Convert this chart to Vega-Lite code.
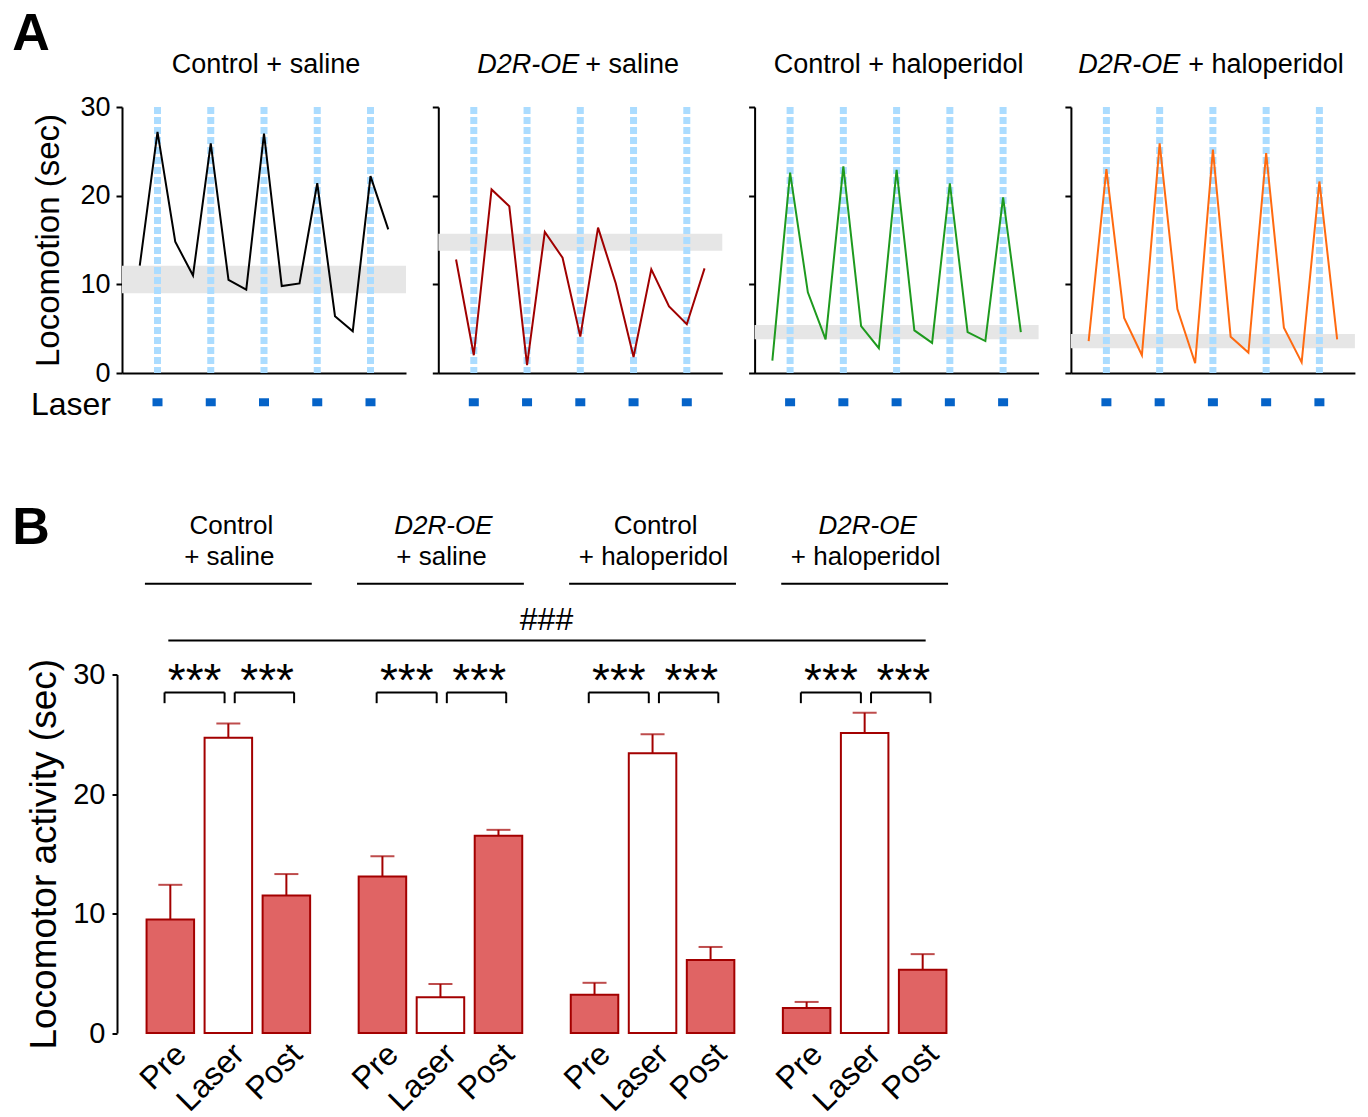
{
"$schema": "https://vega.github.io/schema/vega-lite/v6.json",
"background": "white",
"padding": {"left": 12, "top": 8, "right": 5, "bottom": 5},
"autosize": {"type": "pad"},
"config": {
  "view": {"stroke": null},
  "font": "Liberation Sans",
  "text": {"font": "Liberation Sans", "color": "#000000"},
  "axis": {"domainColor": "#000000", "tickColor": "#000000", "labelColor": "#000000", "titleColor": "#000000", "domainWidth": 2, "tickWidth": 2, "grid": false, "labelFont": "Liberation Sans", "titleFont": "Liberation Sans", "titleFontWeight": "normal"}
},
"datasets": {
  "loco": [
    {"panel":1,"t":0,"value":12.1},{"panel":1,"t":1,"value":27.2},{"panel":1,"t":2,"value":14.8},{"panel":1,"t":3,"value":11.0},{"panel":1,"t":4,"value":25.9},{"panel":1,"t":5,"value":10.5},{"panel":1,"t":6,"value":9.4},{"panel":1,"t":7,"value":27.0},{"panel":1,"t":8,"value":9.8},{"panel":1,"t":9,"value":10.1},{"panel":1,"t":10,"value":21.4},{"panel":1,"t":11,"value":6.4},{"panel":1,"t":12,"value":4.7},{"panel":1,"t":13,"value":22.2},{"panel":1,"t":14,"value":16.2},
    {"panel":2,"t":0,"value":12.8},{"panel":2,"t":1,"value":2.0},{"panel":2,"t":2,"value":20.7},{"panel":2,"t":3,"value":18.8},{"panel":2,"t":4,"value":0.9},{"panel":2,"t":5,"value":15.9},{"panel":2,"t":6,"value":13.0},{"panel":2,"t":7,"value":4.1},{"panel":2,"t":8,"value":16.4},{"panel":2,"t":9,"value":10.1},{"panel":2,"t":10,"value":1.8},{"panel":2,"t":11,"value":11.7},{"panel":2,"t":12,"value":7.5},{"panel":2,"t":13,"value":5.5},{"panel":2,"t":14,"value":11.8},
    {"panel":3,"t":0,"value":1.4},{"panel":3,"t":1,"value":22.6},{"panel":3,"t":2,"value":9.1},{"panel":3,"t":3,"value":3.8},{"panel":3,"t":4,"value":23.3},{"panel":3,"t":5,"value":5.3},{"panel":3,"t":6,"value":2.8},{"panel":3,"t":7,"value":22.9},{"panel":3,"t":8,"value":4.8},{"panel":3,"t":9,"value":3.4},{"panel":3,"t":10,"value":21.4},{"panel":3,"t":11,"value":4.6},{"panel":3,"t":12,"value":3.6},{"panel":3,"t":13,"value":19.8},{"panel":3,"t":14,"value":4.6},
    {"panel":4,"t":0,"value":3.6},{"panel":4,"t":1,"value":23.0},{"panel":4,"t":2,"value":6.2},{"panel":4,"t":3,"value":2.0},{"panel":4,"t":4,"value":25.9},{"panel":4,"t":5,"value":7.2},{"panel":4,"t":6,"value":1.1},{"panel":4,"t":7,"value":25.2},{"panel":4,"t":8,"value":4.1},{"panel":4,"t":9,"value":2.3},{"panel":4,"t":10,"value":24.8},{"panel":4,"t":11,"value":5.1},{"panel":4,"t":12,"value":1.2},{"panel":4,"t":13,"value":21.6},{"panel":4,"t":14,"value":3.8}
  ],
  "bands": [
    {"panel":1,"lo":9.0,"hi":12.1},{"panel":2,"lo":13.8,"hi":15.7},{"panel":3,"lo":3.8,"hi":5.4},{"panel":4,"lo":2.8,"hi":4.4}
  ],
  "laser": [{"t":1},{"t":4},{"t":7},{"t":10},{"t":13}],
  "bars": [
    {"group":"Control + saline","phase":"Pre","mean":9.5,"upper":12.4},
    {"group":"Control + saline","phase":"Laser","mean":24.7,"upper":25.9},
    {"group":"Control + saline","phase":"Post","mean":11.5,"upper":13.3},
    {"group":"D2R-OE + saline","phase":"Pre","mean":13.1,"upper":14.8},
    {"group":"D2R-OE + saline","phase":"Laser","mean":3.0,"upper":4.1},
    {"group":"D2R-OE + saline","phase":"Post","mean":16.5,"upper":17.0},
    {"group":"Control + haloperidol","phase":"Pre","mean":3.2,"upper":4.2},
    {"group":"Control + haloperidol","phase":"Laser","mean":23.4,"upper":25.0},
    {"group":"Control + haloperidol","phase":"Post","mean":6.1,"upper":7.2},
    {"group":"D2R-OE + haloperidol","phase":"Pre","mean":2.1,"upper":2.6},
    {"group":"D2R-OE + haloperidol","phase":"Laser","mean":25.1,"upper":26.8},
    {"group":"D2R-OE + haloperidol","phase":"Post","mean":5.3,"upper":6.6}
  ],
  "groups": [
    {"group":"Control + saline","line1":"Control","line2":"+ saline"},
    {"group":"D2R-OE + saline","line1":"D2R-OE","line2":"+ saline"},
    {"group":"Control + haloperidol","line1":"Control","line2":"+ haloperidol"},
    {"group":"D2R-OE + haloperidol","line1":"D2R-OE","line2":"+ haloperidol"}
  ],
  "comparison": [{"from":"Control + saline","to":"D2R-OE + haloperidol","label":"###"}],
  "note": [{"label":"note"}]
},
"bounds": "flush",
"spacing": 567.5,
"vconcat": [
  {
    "bounds": "flush",
    "spacing": 32.3,
    "hconcat": [
      {
        "width": 284, "height": 266,
        "layer": [
          {"data": {"name": "bands"}, "transform": [{"filter": "datum.panel == 1"}], "mark": {"type": "rect", "color": "#e6e6e6"},
           "encoding": {"y": {"field": "lo", "type": "quantitative", "scale": {"domain": [0, 30], "nice": false}, "axis": {"values": [0, 10, 20, 30], "title": "Locomotion (sec)", "labelFontSize": 27, "titleFontSize": 33, "tickSize": 6, "labelPadding": 6, "titlePadding": 14}}, "y2": {"field": "hi"}}},
          {"data": {"name": "laser"}, "mark": {"type": "rule", "color": "#abdcff", "strokeWidth": 7, "strokeDash": [7, 3]},
           "encoding": {"x": {"field": "t", "type": "quantitative", "scale": {"domain": [-1, 15], "nice": false, "zero": false}, "axis": {"ticks": false, "labels": false, "title": null}}}},
          {"data": {"name": "loco"}, "transform": [{"filter": "datum.panel == 1"}], "mark": {"type": "line", "color": "#000000", "strokeWidth": 2},
           "encoding": {"x": {"field": "t", "type": "quantitative"}, "y": {"field": "value", "type": "quantitative"}}},
          {"data": {"name": "laser"}, "mark": {"type": "point", "shape": "M-1,-0.8H1V0.8H-1Z", "filled": true, "color": "#0563c8", "size": 100, "opacity": 1},
           "encoding": {"x": {"field": "t", "type": "quantitative"}, "y": {"datum": -3.3, "type": "quantitative"}}},
          {"data": {"name": "note"}, "mark": {"type": "text", "text": "Control + saline", "fontSize": 27, "align": "center", "baseline": "alphabetic", "dx": 2},
           "encoding": {"x": {"datum": 7, "type": "quantitative"}, "y": {"datum": 33.8, "type": "quantitative"}}},
          {"data": {"name": "note"}, "mark": {"type": "text", "text": "Laser", "fontSize": 32, "align": "right", "baseline": "middle", "dx": -11},
           "encoding": {"x": {"datum": -1, "type": "quantitative"}, "y": {"datum": -3.6, "type": "quantitative"}}},
          {"data": {"name": "note"}, "mark": {"type": "text", "text": "A", "fontSize": 52, "fontWeight": "bold", "align": "left", "baseline": "alphabetic", "dx": -109.7},
           "encoding": {"x": {"datum": -1, "type": "quantitative"}, "y": {"datum": 36.4, "type": "quantitative"}}}
        ]
      },
      {
        "width": 284, "height": 266,
        "layer": [
          {"data": {"name": "bands"}, "transform": [{"filter": "datum.panel == 2"}], "mark": {"type": "rect", "color": "#e6e6e6"},
           "encoding": {"y": {"field": "lo", "type": "quantitative", "scale": {"domain": [0, 30], "nice": false}, "axis": {"values": [0, 10, 20, 30], "labels": false, "title": null, "tickSize": 6}}, "y2": {"field": "hi"}}},
          {"data": {"name": "laser"}, "mark": {"type": "rule", "color": "#abdcff", "strokeWidth": 7, "strokeDash": [7, 3]},
           "encoding": {"x": {"field": "t", "type": "quantitative", "scale": {"domain": [-1, 15], "nice": false, "zero": false}, "axis": {"ticks": false, "labels": false, "title": null}}}},
          {"data": {"name": "loco"}, "transform": [{"filter": "datum.panel == 2"}], "mark": {"type": "line", "color": "#a00000", "strokeWidth": 2},
           "encoding": {"x": {"field": "t", "type": "quantitative"}, "y": {"field": "value", "type": "quantitative"}}},
          {"data": {"name": "laser"}, "mark": {"type": "point", "shape": "M-1,-0.8H1V0.8H-1Z", "filled": true, "color": "#0563c8", "size": 100, "opacity": 1},
           "encoding": {"x": {"field": "t", "type": "quantitative"}, "y": {"datum": -3.3, "type": "quantitative"}}},
          {"data": {"name": "note"}, "mark": {"type": "text", "text": "D2R-OE", "fontSize": 27, "fontStyle": "italic", "align": "right", "baseline": "alphabetic", "dx": -1},
           "encoding": {"x": {"datum": 7, "type": "quantitative"}, "y": {"datum": 33.8, "type": "quantitative"}}},
          {"data": {"name": "note"}, "mark": {"type": "text", "text": "+ saline", "fontSize": 27, "align": "left", "baseline": "alphabetic", "dx": 5},
           "encoding": {"x": {"datum": 7, "type": "quantitative"}, "y": {"datum": 33.8, "type": "quantitative"}}}
        ]
      },
      {
        "width": 284, "height": 266,
        "layer": [
          {"data": {"name": "bands"}, "transform": [{"filter": "datum.panel == 3"}], "mark": {"type": "rect", "color": "#e6e6e6"},
           "encoding": {"y": {"field": "lo", "type": "quantitative", "scale": {"domain": [0, 30], "nice": false}, "axis": {"values": [0, 10, 20, 30], "labels": false, "title": null, "tickSize": 6}}, "y2": {"field": "hi"}}},
          {"data": {"name": "laser"}, "mark": {"type": "rule", "color": "#abdcff", "strokeWidth": 7, "strokeDash": [7, 3]},
           "encoding": {"x": {"field": "t", "type": "quantitative", "scale": {"domain": [-1, 15], "nice": false, "zero": false}, "axis": {"ticks": false, "labels": false, "title": null}}}},
          {"data": {"name": "loco"}, "transform": [{"filter": "datum.panel == 3"}], "mark": {"type": "line", "color": "#1e9a1e", "strokeWidth": 2},
           "encoding": {"x": {"field": "t", "type": "quantitative"}, "y": {"field": "value", "type": "quantitative"}}},
          {"data": {"name": "laser"}, "mark": {"type": "point", "shape": "M-1,-0.8H1V0.8H-1Z", "filled": true, "color": "#0563c8", "size": 100, "opacity": 1},
           "encoding": {"x": {"field": "t", "type": "quantitative"}, "y": {"datum": -3.3, "type": "quantitative"}}},
          {"data": {"name": "note"}, "mark": {"type": "text", "text": "Control + haloperidol", "fontSize": 27, "align": "center", "baseline": "alphabetic", "dx": 2},
           "encoding": {"x": {"datum": 7, "type": "quantitative"}, "y": {"datum": 33.8, "type": "quantitative"}}}
        ]
      },
      {
        "width": 284, "height": 266,
        "layer": [
          {"data": {"name": "bands"}, "transform": [{"filter": "datum.panel == 4"}], "mark": {"type": "rect", "color": "#e6e6e6"},
           "encoding": {"y": {"field": "lo", "type": "quantitative", "scale": {"domain": [0, 30], "nice": false}, "axis": {"values": [0, 10, 20, 30], "labels": false, "title": null, "tickSize": 6}}, "y2": {"field": "hi"}}},
          {"data": {"name": "laser"}, "mark": {"type": "rule", "color": "#abdcff", "strokeWidth": 7, "strokeDash": [7, 3]},
           "encoding": {"x": {"field": "t", "type": "quantitative", "scale": {"domain": [-1, 15], "nice": false, "zero": false}, "axis": {"ticks": false, "labels": false, "title": null}}}},
          {"data": {"name": "loco"}, "transform": [{"filter": "datum.panel == 4"}], "mark": {"type": "line", "color": "#ff6a10", "strokeWidth": 2},
           "encoding": {"x": {"field": "t", "type": "quantitative"}, "y": {"field": "value", "type": "quantitative"}}},
          {"data": {"name": "laser"}, "mark": {"type": "point", "shape": "M-1,-0.8H1V0.8H-1Z", "filled": true, "color": "#0563c8", "size": 100, "opacity": 1},
           "encoding": {"x": {"field": "t", "type": "quantitative"}, "y": {"datum": -3.3, "type": "quantitative"}}},
          {"data": {"name": "note"}, "mark": {"type": "text", "text": "D2R-OE", "fontSize": 27, "fontStyle": "italic", "align": "right", "baseline": "alphabetic", "dx": -32.6},
           "encoding": {"x": {"datum": 7, "type": "quantitative"}, "y": {"datum": 33.8, "type": "quantitative"}}},
          {"data": {"name": "note"}, "mark": {"type": "text", "text": "+ haloperidol", "fontSize": 27, "align": "left", "baseline": "alphabetic", "dx": -24.6},
           "encoding": {"x": {"datum": 7, "type": "quantitative"}, "y": {"datum": 33.8, "type": "quantitative"}}}
        ]
      }
    ]
  },
  {
    "width": 849, "height": 358.5,
    "layer": [
      {"data": {"name": "bars"}, "mark": {"type": "bar", "stroke": "#a30000", "strokeWidth": 2},
       "encoding": {
         "x": {"field": "group", "type": "nominal", "sort": null, "scale": {"domain": ["Control + saline", "D2R-OE + saline", "Control + haloperidol", "D2R-OE + haloperidol"], "paddingInner": 0.2288, "paddingOuter": 0.1158}, "axis": null},
         "xOffset": {"field": "phase", "type": "nominal", "sort": null, "scale": {"domain": ["Pre", "Laser", "Post"], "paddingInner": 0.181, "paddingOuter": 0}},
         "y": {"field": "mean", "type": "quantitative", "scale": {"domain": [0, 30], "nice": false}, "axis": {"values": [0, 10, 20, 30], "title": "Locomotor activity (sec)", "labelFontSize": 29, "titleFontSize": 37, "tickSize": 5, "offset": 5, "labelPadding": 7, "titlePadding": 9}},
         "fill": {"field": "phase", "type": "nominal", "scale": {"domain": ["Pre", "Laser", "Post"], "range": ["#e06464", "#ffffff", "#e06464"]}, "legend": null}
       }},
      {"data": {"name": "bars"}, "mark": {"type": "rule", "color": "#a30000", "strokeWidth": 2},
       "encoding": {"x": {"field": "group", "type": "nominal"}, "xOffset": {"field": "phase", "type": "nominal"}, "y": {"field": "mean", "type": "quantitative"}, "y2": {"field": "upper"}}},
      {"data": {"name": "bars"}, "mark": {"type": "tick", "color": "#a30000", "thickness": 2, "size": 24, "orient": "horizontal"},
       "encoding": {"x": {"field": "group", "type": "nominal"}, "xOffset": {"field": "phase", "type": "nominal"}, "y": {"field": "upper", "type": "quantitative"}}},
      {"data": {"name": "bars"}, "mark": {"type": "text", "fontSize": 32, "angle": -45, "align": "right", "baseline": "alphabetic", "dx": -4, "dy": 29},
       "encoding": {"x": {"field": "group", "type": "nominal"}, "xOffset": {"field": "phase", "type": "nominal"}, "y": {"datum": 0, "type": "quantitative"}, "text": {"field": "phase"}}},
      {"data": {"name": "groups"}, "transform": [{"filter": "datum.line1 != 'D2R-OE'"}], "mark": {"type": "text", "fontSize": 26, "align": "center", "baseline": "alphabetic", "dx": 3},
       "encoding": {"x": {"field": "group", "type": "nominal"}, "y": {"datum": 41.77, "type": "quantitative"}, "text": {"field": "line1"}}},
      {"data": {"name": "groups"}, "transform": [{"filter": "datum.line1 == 'D2R-OE'"}], "mark": {"type": "text", "fontSize": 26, "fontStyle": "italic", "align": "center", "baseline": "alphabetic", "dx": 3},
       "encoding": {"x": {"field": "group", "type": "nominal"}, "y": {"datum": 41.77, "type": "quantitative"}, "text": {"field": "line1"}}},
      {"data": {"name": "groups"}, "mark": {"type": "text", "fontSize": 26, "align": "center", "baseline": "alphabetic", "dx": 1},
       "encoding": {"x": {"field": "group", "type": "nominal"}, "y": {"datum": 39.2, "type": "quantitative"}, "text": {"field": "line2"}}},
      {"data": {"name": "groups"}, "mark": {"type": "rule", "color": "#000000", "strokeWidth": 2},
       "encoding": {"x": {"field": "group", "type": "nominal", "bandPosition": -0.01}, "x2": {"field": "group", "bandPosition": 1.01}, "y": {"datum": 37.6, "type": "quantitative"}}},
      {"data": {"name": "comparison"}, "mark": {"type": "rule", "color": "#000000", "strokeWidth": 2},
       "encoding": {"x": {"field": "from", "type": "nominal", "bandPosition": 0.133}, "x2": {"field": "to", "bandPosition": 0.873}, "y": {"datum": 32.85, "type": "quantitative"}}},
      {"data": {"name": "comparison"}, "mark": {"type": "text", "fontSize": 32, "align": "center", "baseline": "alphabetic"},
       "encoding": {"x": {"field": "from", "type": "nominal", "bandPosition": 2.445}, "y": {"datum": 33.7, "type": "quantitative"}, "text": {"field": "label"}}},
      {"data": {"name": "groups"}, "mark": {"type": "rule", "color": "#000000", "strokeWidth": 2},
       "encoding": {"x": {"field": "group", "type": "nominal", "bandPosition": 0.11}, "x2": {"field": "group", "bandPosition": 0.477}, "y": {"datum": 28.5, "type": "quantitative"}}},
      {"data": {"name": "groups"}, "mark": {"type": "rule", "color": "#000000", "strokeWidth": 2},
       "encoding": {"x": {"field": "group", "type": "nominal", "bandPosition": 0.539}, "x2": {"field": "group", "bandPosition": 0.902}, "y": {"datum": 28.5, "type": "quantitative"}}},
      {"data": {"name": "groups"}, "mark": {"type": "rule", "color": "#000000", "strokeWidth": 2},
       "encoding": {"x": {"field": "group", "type": "nominal", "bandPosition": 0.11}, "y": {"datum": 28.5, "type": "quantitative"}, "y2": {"datum": 27.6}}},
      {"data": {"name": "groups"}, "mark": {"type": "rule", "color": "#000000", "strokeWidth": 2},
       "encoding": {"x": {"field": "group", "type": "nominal", "bandPosition": 0.477}, "y": {"datum": 28.5, "type": "quantitative"}, "y2": {"datum": 27.6}}},
      {"data": {"name": "groups"}, "mark": {"type": "rule", "color": "#000000", "strokeWidth": 2},
       "encoding": {"x": {"field": "group", "type": "nominal", "bandPosition": 0.539}, "y": {"datum": 28.5, "type": "quantitative"}, "y2": {"datum": 27.6}}},
      {"data": {"name": "groups"}, "mark": {"type": "rule", "color": "#000000", "strokeWidth": 2},
       "encoding": {"x": {"field": "group", "type": "nominal", "bandPosition": 0.902}, "y": {"datum": 28.5, "type": "quantitative"}, "y2": {"datum": 27.6}}},
      {"data": {"name": "groups"}, "mark": {"type": "text", "text": "***", "fontSize": 46, "align": "center", "baseline": "alphabetic"},
       "encoding": {"x": {"field": "group", "type": "nominal", "bandPosition": 0.294}, "y": {"datum": 28.23, "type": "quantitative"}}},
      {"data": {"name": "groups"}, "mark": {"type": "text", "text": "***", "fontSize": 46, "align": "center", "baseline": "alphabetic"},
       "encoding": {"x": {"field": "group", "type": "nominal", "bandPosition": 0.737}, "y": {"datum": 28.23, "type": "quantitative"}}},
      {"data": {"name": "comparison"}, "mark": {"type": "text", "text": "B", "fontSize": 52, "fontWeight": "bold", "align": "left", "baseline": "alphabetic", "dx": -134.25},
       "encoding": {"x": {"field": "from", "type": "nominal", "bandPosition": 0}, "y": {"datum": 40.9, "type": "quantitative"}}}
    ]
  }
]
}
